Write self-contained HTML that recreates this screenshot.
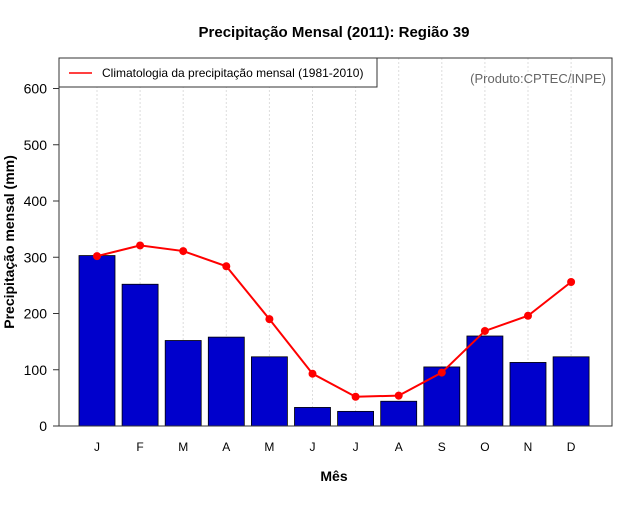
<!DOCTYPE html>
<html><head><meta charset="utf-8"><style>
body{margin:0;background:#fff}
svg{font-family:"Liberation Sans",sans-serif}
</style></head><body>
<svg id="c" width="640" height="500" viewBox="0 0 640 500">
<text x="334" y="37" text-anchor="middle" font-size="15" font-weight="bold">Precipitação Mensal (2011): Região 39</text>
<g id="grid"></g>
<g id="bars"></g>
<g id="line"></g>
<g id="axes"></g>
<rect x="59" y="58" width="553" height="368" fill="none" stroke="#333" stroke-width="1"/>
<g>
<rect x="59" y="58" width="318" height="29" fill="#fff" stroke="#333"/>
<line x1="69" y1="73" x2="92" y2="73" stroke="red" stroke-width="1.5"/>
<text x="102" y="77" font-size="12">Climatologia da precipitação mensal (1981-2010)</text>
</g>
<text x="606" y="83" text-anchor="end" font-size="13" fill="#666">(Produto:CPTEC/INPE)</text>
<text x="334" y="481" text-anchor="middle" font-size="14" font-weight="bold">Mês</text>
<text transform="translate(14,242) rotate(-90)" text-anchor="middle" font-size="14" font-weight="bold">Precipitação mensal (mm)</text>
</svg>
<script>
const months=["J","F","M","A","M","J","J","A","S","O","N","D"];
const observed=[303,252,152,158,123,33,26,44,105,160,113,123];
const climatology=[302,321,311,284,190,93,52,54,95,169,196,256];
const yTicks=[0,100,200,300,400,500,600];
const NS="http://www.w3.org/2000/svg";
const x=i=>97+43.1*i;
const y=v=>426-v*0.5625;
function mk(tag,attrs,parent,text){const e=document.createElementNS(NS,tag);for(const k in attrs)e.setAttribute(k,attrs[k]);if(text!==undefined)e.textContent=text;document.getElementById(parent).appendChild(e);return e;}
months.forEach((m,i)=>{
 const g=mk('line',{x1:x(i),x2:x(i),y1:58,y2:426,stroke:'#ddd','stroke-dasharray':'2,2'},'grid');
 
 
 const b=mk('rect',{x:x(i)-18,y:y(observed[i]),width:36,height:426-y(observed[i]),fill:'#0000cc',stroke:'#000','stroke-width':0.8},'bars');
 
 
 const t=mk('text',{x:x(i),y:451,'text-anchor':'middle','font-size':12},'axes',m);
 
 
});
const pl=mk('polyline',{points:climatology.map((v,i)=>x(i)+','+y(v)).join(' '),fill:'none',stroke:'red','stroke-width':2},'line');


climatology.forEach((v,i)=>{
 const c=mk('circle',{cx:x(i),cy:y(v),r:4,fill:'red'},'line');
 
 
});
yTicks.forEach(v=>{
 const l=mk('line',{x1:53,x2:59,y1:y(v),y2:y(v),stroke:'#333'},'axes');
 
 
 const t=mk('text',{x:47,y:y(v)+5,'text-anchor':'end','font-size':14},'axes',v);
 
 
});
</script>
</body></html>
